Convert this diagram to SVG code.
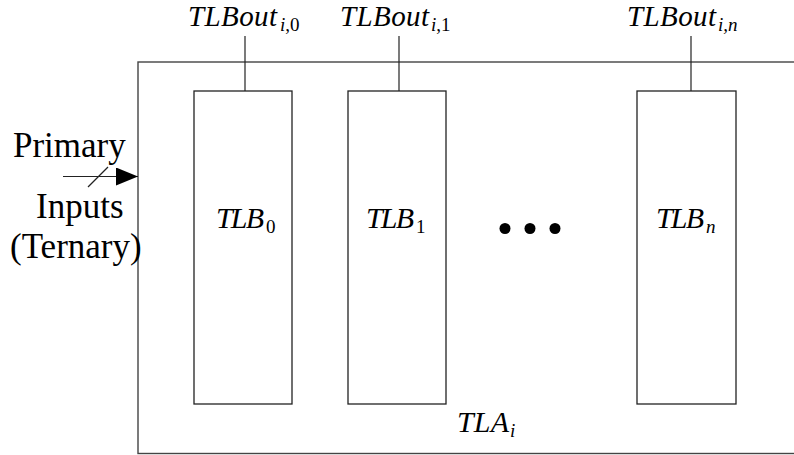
<svg xmlns="http://www.w3.org/2000/svg" width="794" height="455" viewBox="0 0 794 455">
  <style>
    .frame { fill: none; stroke: #444; stroke-width: 1.4; }
    .box { fill: #fff; stroke: #222; stroke-width: 1.3; }
    .wire { fill: none; stroke: #222; stroke-width: 1.2; }
    .math { font-family: "Liberation Serif", "Times New Roman", serif; font-style: italic; font-size: 30px; fill: #000; }
    .head { font-size: 29px; }
    .sub { font-family: "Liberation Serif", "Times New Roman", serif; font-size: 19px; fill: #000; }
    .subi { font-style: italic; }
    .roman { font-family: "Liberation Serif", "Times New Roman", serif; font-size: 35px; fill: #000; }
  </style>
  <defs>
    <marker id="arrowhead" markerWidth="22" markerHeight="18" refX="22" refY="9" orient="auto" markerUnits="userSpaceOnUse">
      <polygon points="0,0 22,9 0,18" fill="#000"/>
    </marker>
  </defs>
  <rect width="794" height="455" fill="#fff"/>

  <!-- enclosing array TLA_i -->
  <g id="tla">
    <rect class="frame" x="138" y="62" width="700" height="391.5"/>
    <text class="math" x="457" y="432" textLength="52" lengthAdjust="spacing">TLA</text>
    <text class="sub subi" x="510" y="437">i</text>
  </g>

  <!-- blocks -->
  <g id="tlb0">
    <rect class="box" x="194" y="91" width="98" height="313"/>
    <text class="math" x="216" y="228" textLength="48" lengthAdjust="spacing">TLB</text>
    <text class="sub" x="266" y="233">0</text>
  </g>
  <g id="tlb1">
    <rect class="box" x="348" y="91" width="98" height="313"/>
    <text class="math" x="366" y="228" textLength="48" lengthAdjust="spacing">TLB</text>
    <text class="sub" x="416" y="233">1</text>
  </g>
  <g id="ellipsis">
    <circle cx="505" cy="228.5" r="5.5" fill="#000"/>
    <circle cx="530" cy="228.5" r="5.5" fill="#000"/>
    <circle cx="555" cy="228.5" r="5.5" fill="#000"/>
  </g>
  <g id="tlbn">
    <rect class="box" x="637" y="91" width="99" height="313"/>
    <text class="math" x="656" y="228" textLength="48" lengthAdjust="spacing">TLB</text>
    <text class="sub subi" x="706" y="233">n</text>
  </g>

  <!-- output labels -->
  <g id="out0">
    <text class="math head" x="188" y="26" textLength="89" lengthAdjust="spacing">TLBout</text>
    <text class="sub" x="280" y="31"><tspan class="subi">i</tspan>,0</text>
  </g>
  <g id="out1">
    <text class="math head" x="340" y="26" textLength="89" lengthAdjust="spacing">TLBout</text>
    <text class="sub" x="431" y="31"><tspan class="subi">i</tspan>,1</text>
  </g>
  <g id="outn">
    <text class="math head" x="627" y="26" textLength="89" lengthAdjust="spacing">TLBout</text>
    <text class="sub subi" x="718" y="31">i,n</text>
  </g>

  <!-- primary inputs label -->
  <g id="inputs">
    <text class="roman" x="13" y="157">Primary</text>
    <text class="roman" x="36" y="218">Inputs</text>
    <text class="roman" x="10" y="258">(Ternary)</text>
  </g>

  <!-- connectors -->
  <g id="connectors">
    <line class="wire" x1="245" y1="36" x2="245" y2="91"/>
    <line class="wire" x1="399" y1="36" x2="399" y2="91"/>
    <line class="wire" x1="691" y1="36" x2="691" y2="91"/>
    <line class="wire" x1="63" y1="176.5" x2="138" y2="176.5" marker-end="url(#arrowhead)"/>
    <line class="wire" x1="88" y1="187" x2="108" y2="167"/>
  </g>
</svg>
